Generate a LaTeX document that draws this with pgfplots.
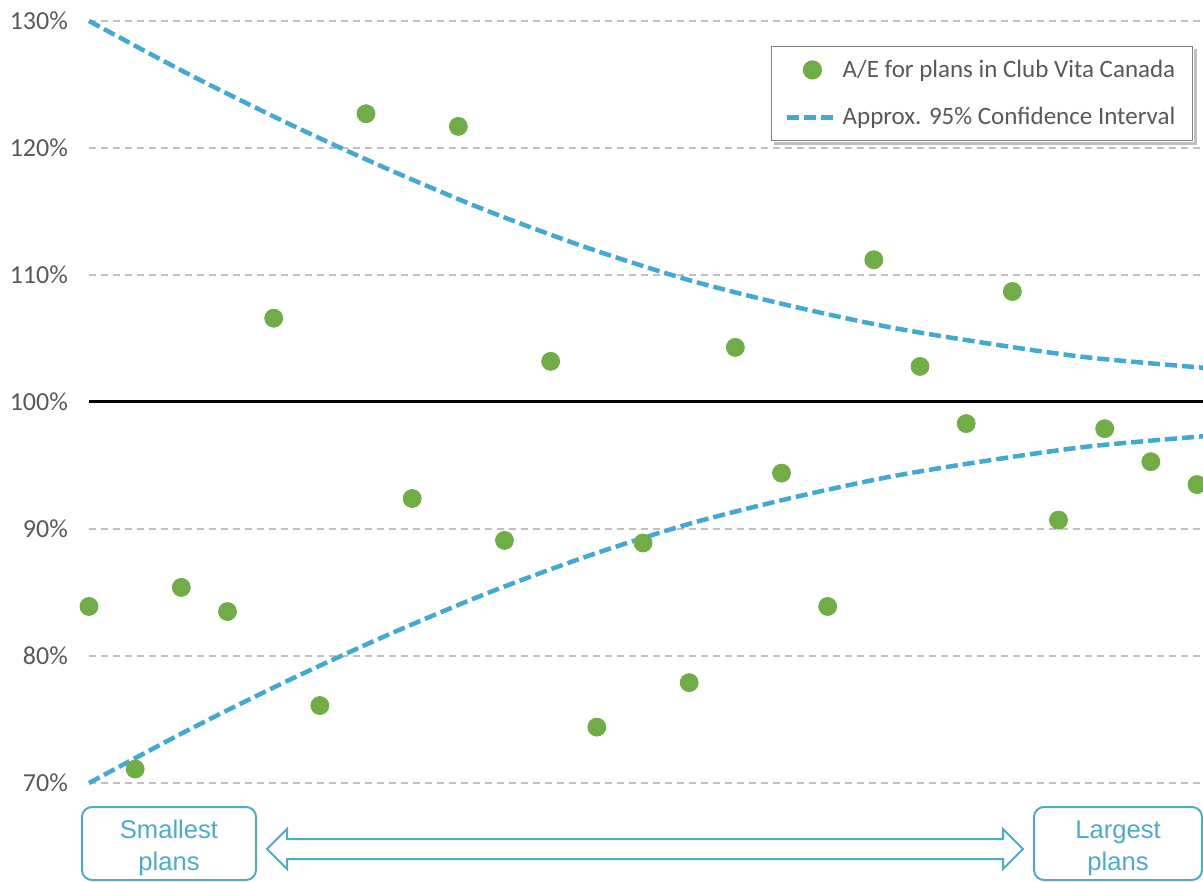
\documentclass[border=0pt]{standalone}
\usepackage{fontspec}
\setmainfont{Carlito}
\newfontfamily\arialfont{Liberation Sans}
\usepackage{pgfplots}
\pgfplotsset{compat=1.18}
\definecolor{dotgreen}{HTML}{70AD47}
\definecolor{ciblue}{HTML}{41A9D2}
\definecolor{boxblue}{HTML}{4BACC6}
\definecolor{txtgray}{HTML}{595959}
\definecolor{gridgray}{HTML}{C0C0C0}
\begin{document}
\begin{tikzpicture}
\begin{axis}[name=ax, scale only axis, width=557pt, height=381pt,
  xmin=1, xmax=25.13, ymin=70, ymax=130,
  xtick=\empty, ytick={70,80,90,100,110,120,130},
  yticklabels={70\%,80\%,90\%,100\%,110\%,120\%,130\%},
  /pgf/number format/assume math mode=true,
  axis line style={draw=none}, major tick length=0pt,
  ymajorgrids, grid style={gridgray, line width=0.75pt, dash pattern=on 3.5pt off 2.5pt},
  yticklabel style={font=\fontsize{13}{15}\selectfont, text=txtgray, xshift=-7pt},
  clip=false,
  reverse legend,
  legend style={name=leg, at={(axis description cs:0.991,0.967)}, anchor=north east,
    draw=gray, line width=0.6pt, fill=white,
    font=\fontsize{12.5}{15}\selectfont, text=txtgray,
    inner xsep=7pt, inner ysep=5pt, row sep=10.5pt,
    nodes={inner sep=1.5pt}},
  legend cell align=left,
  legend image code/.code={\draw[mark repeat=2,mark phase=2,#1] plot coordinates {(0pt,0pt) (12.5pt,0pt) (25pt,0pt)};},
]
\addplot[black, line width=1.5pt, forget plot] coordinates {(1,100) (25.13,100)};
\addplot[ciblue, line width=2.25pt, dash pattern=on 6pt off 2.5pt, smooth] coordinates {
(1,130) (3.166,125.8) (5.332,121.9) (7.498,118.3) (9.664,115.0) (11.83,112.1)
(13.996,109.6) (16.16,107.6) (18.33,105.9) (20.49,104.6) (22.66,103.5) (25.13,102.7)};
\addlegendentry{Approx. 95\% Confidence Interval}
\addplot[ciblue, line width=2.25pt, dash pattern=on 6pt off 2.5pt, smooth, forget plot] coordinates {
(1,70) (3.166,74.2) (5.332,78.1) (7.498,81.7) (9.664,85.0) (11.83,87.9)
(13.996,90.4) (16.16,92.4) (18.33,94.1) (20.49,95.4) (22.66,96.5) (25.13,97.3)};
\addplot[only marks, mark=*, mark size=4.5pt, color=dotgreen, mark options={draw=dotgreen, fill=dotgreen}] table {
x y
1 83.9
2 71.1
3 85.4
4 83.5
5 106.6
6 76.1
7 122.7
8 92.4
9 121.7
10 89.1
11 103.2
12 74.4
13 88.9
14 77.9
15 104.3
16 94.4
17 83.9
18 111.2
19 102.8
20 98.3
21 108.7
22 90.7
23 97.9
24 95.3
25 93.5
};
\addlegendentry{A/E for plans in Club Vita Canada}
\end{axis}
% legend shadow (right and bottom strips)
\fill[black, opacity=0.25] ([xshift=0.3pt,yshift=-1.5pt]leg.north east) rectangle ([xshift=1.8pt,yshift=-1.8pt]leg.south east);
\fill[black, opacity=0.25] ([xshift=1.5pt,yshift=-0.3pt]leg.south west) rectangle ([xshift=0.3pt,yshift=-1.8pt]leg.south east);
\begin{scope}[shift={([xshift=-44.5pt,yshift=10.5pt]ax.north west)}, x=0.5pt, y=-0.5pt]
  \draw[boxblue, line width=1pt, rounded corners=5pt] (82,807) rectangle (256,880);
  \node[boxblue, align=center, font=\arialfont\fontsize{12.8}{16}\selectfont] at (169,848) {Smallest\\plans};
  \draw[boxblue, line width=1pt, rounded corners=5pt] (1034,807) rectangle (1202,880);
  \node[boxblue, align=center, font=\arialfont\fontsize{12.8}{16}\selectfont] at (1118,848) {Largest\\plans};
  \draw[boxblue, line width=1pt, line join=miter] (267,849) -- (287,829) -- (287,839) -- (1003,839) -- (1003,829)
     -- (1023,849) -- (1003,869) -- (1003,859) -- (287,859) -- (287,869) -- cycle;
\end{scope}
\pgfresetboundingbox
\path ([xshift=-44.5pt,yshift=10.5pt]ax.north west) rectangle ([yshift=-49.5pt]ax.south east);
\end{tikzpicture}
\end{document}
